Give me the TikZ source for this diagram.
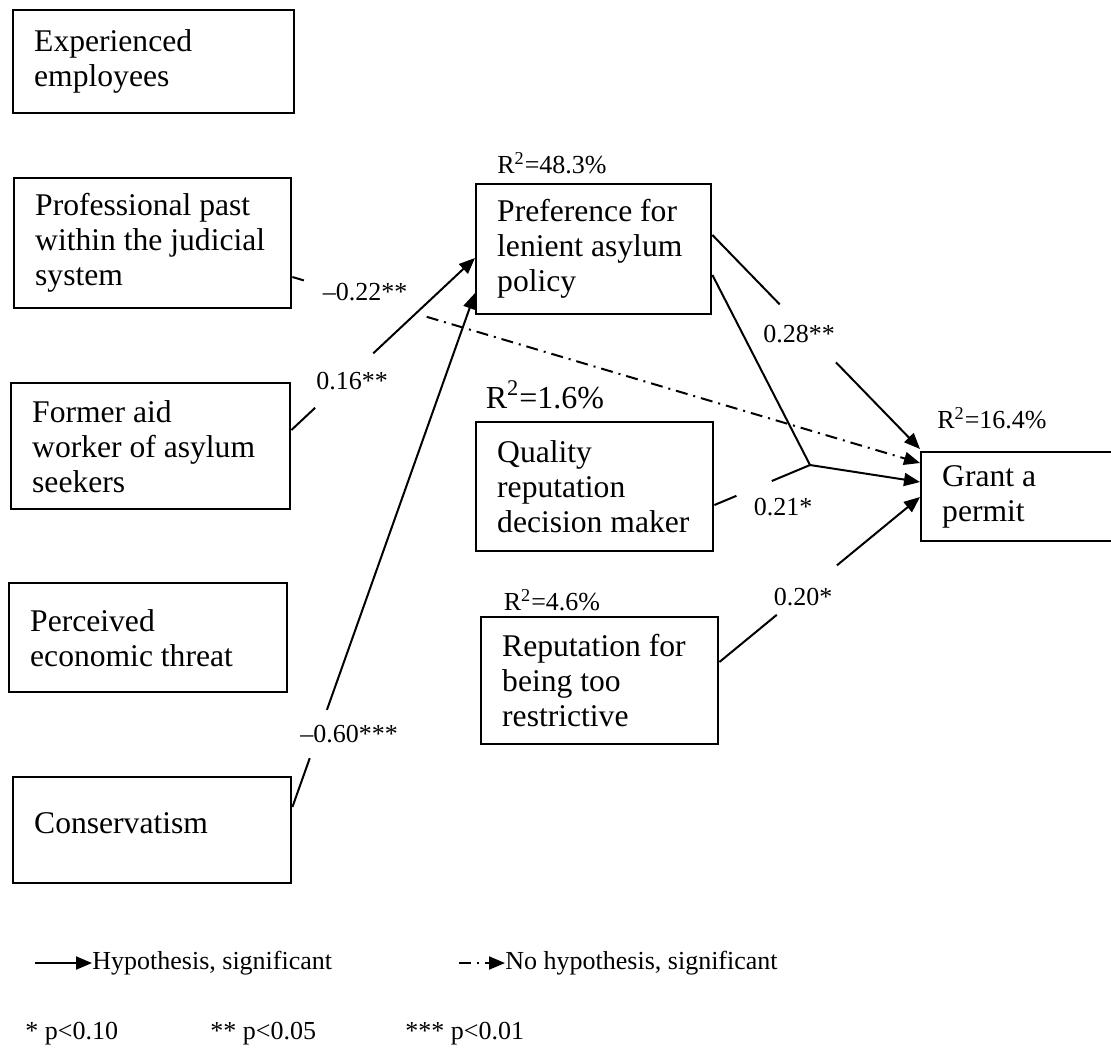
\documentclass[tikz,border=0pt]{standalone}
\usepackage{fontspec}
\setmainfont{Liberation Serif}
\usetikzlibrary{arrows.meta,calc}
\newcommand\boxfont{\fontsize{15.8pt}{17.5pt}\selectfont\hyphenpenalty=10000 \hbadness=10000 \hfuzz=20pt }
\newcommand\lblfont{\fontsize{13pt}{15pt}\selectfont}
\newcommand\bigrfont{\fontsize{16pt}{18pt}\selectfont}
\begin{document}
\begin{tikzpicture}[x=0.5pt,y=-0.5pt,
  box/.style 2 args={draw, line width=1.2pt, rectangle, anchor=north west, align=flush left,
    inner xsep=10.5pt, inner ysep=0pt, text width=#1, minimum height=#2, font=\boxfont},
  conn/.style={line width=1pt},
  arr/.style={conn,-{Triangle[length=8pt,width=6.5pt]}},
  dd/.style={conn,dash pattern=on 6pt off 3pt on 1pt off 3pt},
  lbl/.style={font=\lblfont, inner sep=0pt}]
\useasboundingbox (0,0) rectangle (1111,1057);
\clip (0,0) rectangle (1111,1057);

% boxes
\node[box={119.5pt}{51.5pt}] (exp) at (12,9) {Experienced\\employees};
\node[box={117.5pt}{65pt}] (prof) at (13,177) {Professional~past\\within~the~judicial\\system};
\node[box={118.5pt}{63pt}] (former) at (10,382) {Former~aid\\worker~of~asylum\\seekers};
\node[box={118pt}{54.5pt}] (perc) at (8,582) {Perceived\\economic~threat};
\node[box={118pt}{53pt}] (cons) at (12,776) {\raisebox{7pt}{Conservatism}};
\node[box={96.5pt}{65pt}] (pref) at (475,183) {Preference~for\\lenient~asylum\\policy};
\node[box={97.5pt}{64.5pt}] (qual) at (475,421) {Quality\\reputation\\decision~maker};
\node[box={97.5pt}{63.5pt}] (rep) at (480,616) {Reputation~for\\being~too\\restrictive};
\node[box={89pt}{44.5pt}] (grant) at (920,451) {Grant~a\\permit};

% R squared labels
\node[lbl] (r1) at (552,163) {R\textsuperscript{2}=48.3\%};
\node[lbl,font=\bigrfont] (r2) at (545,395) {R\textsuperscript{2}=1.6\%};
\node[lbl] (r3) at (552,600) {R\textsuperscript{2}=4.6\%};
\node[lbl] (r4) at (992,418) {R\textsuperscript{2}=16.4\%};

% coefficient labels
\node[lbl] (l22) at (365,292) {--0.22**};
\node[lbl] (l16) at (352,381) {0.16**};
\node[lbl] (l60) at (349,734) {--0.60***};
\node[lbl] (l28) at (799,334) {0.28**};
\node[lbl] (l21) at (783,507) {0.21*};
\node[lbl] (l20) at (803,597) {0.20*};

% professional past -> grant (dash-dot)
\coordinate (s1) at (prof.east |- 0,277);
\coordinate (e1) at (grant.west |- 0,463);
\draw[dd] (s1) -- ($(s1)!0.019!(e1)$);
\draw[dd,arr] ($(s1)!0.214!(e1)$) -- (e1);

% former -> pref
\coordinate (s2) at (former.east |- 0,430);
\coordinate (e2) at (pref.west |- 0,258);
\draw[conn] (s2) -- ($(s2)!0.129!(e2)$);
\draw[arr] ($(s2)!0.446!(e2)$) -- (e2);

% conservatism -> pref
\coordinate (s3) at (cons.east |- 0,807);
\coordinate (e3) at (pref.west |- 0,293);
\draw[conn] (s3) -- ($(s3)!0.095!(e3)$);
\draw[arr] ($(s3)!0.189!(e3)$) -- (e3);

% pref -> grant
\coordinate (s4) at (pref.east |- 0,235);
\coordinate (e4) at (grant.west |- 0,449);
\draw[conn] (s4) -- ($(s4)!0.324!(e4)$);
\draw[arr] ($(s4)!0.595!(e4)$) -- (e4);

% interaction
\coordinate (j) at (810,465);
\coordinate (s5) at (pref.east |- 0,275);
\coordinate (s6) at (qual.east |- 0,505);
\coordinate (e5) at (grant.west |- 0,482);
\draw[conn] (s5) -- (j);
\draw[conn] (s6) -- ($(s6)!0.23!(j)$);
\draw[conn] ($(s6)!0.6!(j)$) -- (j);
\draw[arr] (j) -- (e5);

% reputation -> grant
\coordinate (s7) at (rep.east |- 0,662);
\coordinate (e7) at (grant.west |- 0,497);
\draw[conn] (s7) -- ($(s7)!0.286!(e7)$);
\draw[arr] ($(s7)!0.586!(e7)$) -- (e7);

% legend
\node[lbl,anchor=west] (hyp) at (92,963) {Hypothesis, significant};
\coordinate (ha) at (35,963);
\draw[arr] (ha) -- (hyp.west);
\node[lbl,anchor=west] (nohyp) at (505,963) {No hypothesis, significant};
\coordinate (na) at (459,963);
\draw[dd,arr] (na) -- (nohyp.west);

\node[lbl,anchor=west] (p1) at (25,1034) {* p<0.10};
\node[lbl,anchor=west] (p2) at (210,1034) {** p<0.05};
\node[lbl,anchor=west] (p3) at (405,1034) {*** p<0.01};
\end{tikzpicture}
\end{document}
